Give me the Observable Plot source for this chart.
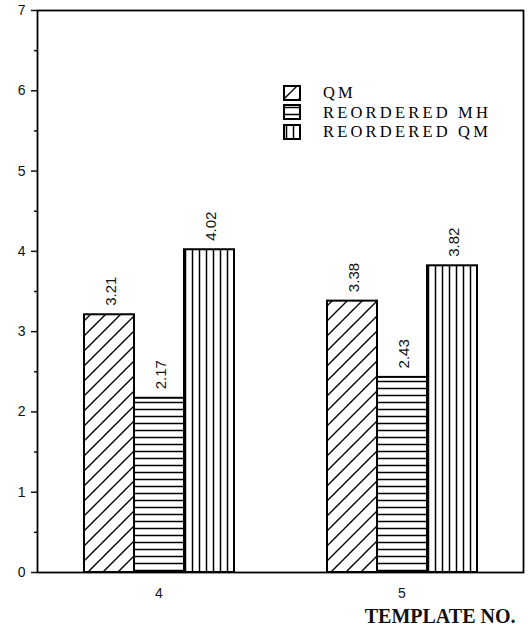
<!DOCTYPE html>
<html><head><meta charset="utf-8">
<script src="https://cdn.jsdelivr.net/npm/d3@7"></script>
<script src="https://cdn.jsdelivr.net/npm/@observablehq/plot@0.6"></script>
<style>
body{margin:0;background:#fff;}
#wrap{position:relative;width:528px;height:633px;}
#legend{position:absolute;left:283px;top:83px;font-family:"Liberation Serif","Times New Roman",serif;font-size:16.5px;letter-spacing:3.2px;color:#000;}
.row{display:flex;align-items:center;height:19.5px;}
.row span{line-height:19px;display:block;}
.row svg{margin-right:22px;flex:none;}
</style></head><body>
<svg width="0" height="0" style="position:absolute"><defs>
<pattern id="diag" patternUnits="userSpaceOnUse" width="15" height="15"><path d="M0,15L15,0M-2,2L2,-2M13,17L17,13" stroke="#000" stroke-width="1.4"/></pattern>
<pattern id="horiz" patternUnits="userSpaceOnUse" width="8" height="7"><path d="M0,3.5H8" stroke="#000" stroke-width="1.5"/></pattern>
<pattern id="vert" patternUnits="userSpaceOnUse" width="7" height="8"><path d="M3.5,0V8" stroke="#000" stroke-width="1.5"/></pattern>
</defs></svg>
<div id="wrap"><div id="legend"></div></div>
<script>
const templates = ["4", "5"];
const series = ["QM", "REORDERED MH", "REORDERED QM"];
const qm = [3.21, 3.38];
const reorderedMH = [2.17, 2.43];
const reorderedQM = [4.02, 3.82];
const yTicks = [0, 1, 2, 3, 4, 5, 6, 7];
const yMinor = [0.5, 1.5, 2.5, 3.5, 4.5, 5.5, 6.5];
const xTitle = "TEMPLATE NO.";
const patterns = ["url(#diag)", "url(#horiz)", "url(#vert)"];

const valuesBySeries = [qm, reorderedMH, reorderedQM];
const data = [];
templates.forEach((t, i) => series.forEach((s, j) => data.push({template: t, series: s, value: valuesBySeries[j][i]})));

const plot = Plot.plot({
  width: 528,
  height: 633,
  marginLeft: 37,
  marginRight: 5,
  marginTop: 10,
  marginBottom: 61,
  style: {fontFamily: "'Liberation Sans', Arial, sans-serif", color: "#111", background: "#fff"},
  fx: {domain: templates, padding: 0},
  x: {domain: series, paddingInner: 0, paddingOuter: 0.915, axis: null},
  y: {domain: [0, 7]},
  color: {domain: series, range: patterns},
  marks: [
    Plot.barY(data, {fx: "template", x: "series", y: "value", fill: "series", stroke: "#000", strokeWidth: 2}),
    Plot.text(data, {fx: "template", x: "series", y: "value", text: d => d.value.toFixed(2), rotate: -90, textAnchor: "start", lineAnchor: "middle", dy: -9, dx: 2, fontSize: 15, fill: "#111"}),
    Plot.frame({facet: "super", stroke: "#000", strokeWidth: 1.8}),
    Plot.axisY({ticks: yTicks, tickFormat: d3.format("d"), tickSize: 6, tickPadding: 6, fontSize: 14, strokeWidth: 1.5, label: null}),
    Plot.axisY({ticks: yMinor, tickSize: 3, tickFormat: () => "", strokeWidth: 1.5, label: null}),
    Plot.axisFx({anchor: "bottom", tickSize: 0, tickPadding: 16, fontSize: 14, label: null}),
    Plot.text([xTitle], {fx: () => templates[templates.length - 1], text: d => d, frameAnchor: "bottom-right", textAnchor: "end", lineAnchor: "bottom", dy: 50, dx: -8, fontFamily: "'Liberation Serif', 'Times New Roman', serif", fontWeight: "bold", fontSize: 20, fill: "#111", facet: "include"})
  ]
});
document.getElementById("wrap").prepend(plot);

const legend = d3.select("#legend");
series.forEach((s, j) => {
  const row = legend.append("div").attr("class", "row");
  const sw = row.append("svg").attr("width", 18).attr("height", 16);
  sw.append("rect").attr("x", 1).attr("y", 1).attr("width", 16).attr("height", 14)
    .attr("fill", patterns[j]).attr("stroke", "#000").attr("stroke-width", 2);
  row.append("span").text(s);
});
</script>
</body></html>
